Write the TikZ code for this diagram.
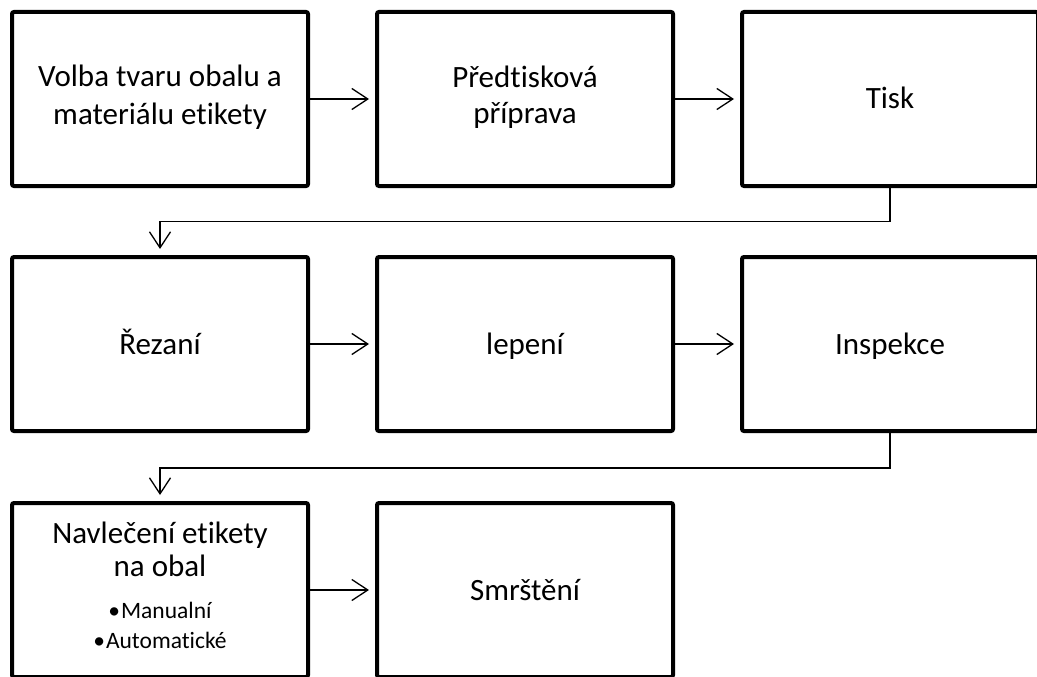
\documentclass[tikz,border=0pt]{standalone}
\usepackage{fontspec}
\setmainfont{Carlito}[Ligatures=CommonOff]
\usetikzlibrary{arrows.meta}

\newcommand{\topstrut}{\rule{0pt}{29pt}}
\newcommand{\botstrut}{\rule[-9pt]{0pt}{9pt}}
\newcommand{\bulletline}[1]{\fontsize{23.5}{28}\selectfont\textbullet\hspace{1pt}#1}

\tikzset{
  procbox/.style={draw, line width=4pt, rounded corners=2pt, minimum width=296pt,
    minimum height=174pt, inner sep=0pt, align=center,
    font=\fontsize{31}{36}\selectfont,
    execute at begin node=\topstrut, execute at end node=\botstrut},
  loosebox/.style={procbox, font=\fontsize{31}{38}\selectfont,
    execute at begin node=\rule{0pt}{39pt}},
  flowarrow/.style={line width=1.3pt, -{Straight Barb[length=16pt,width=21pt]},
    shorten >=6pt},
}

\begin{document}
\begin{tikzpicture}[x=1pt,y=-1pt]
  \clip (0,0) rectangle (1037,677);
  % first row of boxes
  \node[loosebox] (volba) at (160,99) {Volba tvaru obalu a\\materiálu etikety};
  \node[procbox] (priprava) at (525,99) {Předtisková\\příprava};
  \node[procbox] (tisk) at (890,99) {Tisk};
  % second row of boxes
  \node[procbox] (rezani) at (160,344) {Řezaní};
  \node[procbox] (lepeni) at (525,344) {lepení};
  \node[procbox] (inspekce) at (890,344) {Inspekce};
  % third row of boxes
  \node[procbox] (navleceni) at (160,590) {Navlečení etikety\\[-3pt]na obal\\[6pt]
    \bulletline{Manualní}\\[-6pt]\bulletline{Automatické}};
  \node[procbox] (smrsteni) at (525,590) {Smrštění};
  % connectors
  \draw[flowarrow] (volba) -- (priprava);
  \draw[flowarrow] (priprava) -- (tisk);
  \draw[flowarrow] (tisk.south) -- ++(0,33.5) -| (rezani.north);
  \draw[flowarrow] (rezani) -- (lepeni);
  \draw[flowarrow] (lepeni) -- (inspekce);
  \draw[flowarrow] (inspekce.south) -- ++(0,35) -| (navleceni.north);
  \draw[flowarrow] (navleceni) -- (smrsteni);
\end{tikzpicture}
\end{document}
